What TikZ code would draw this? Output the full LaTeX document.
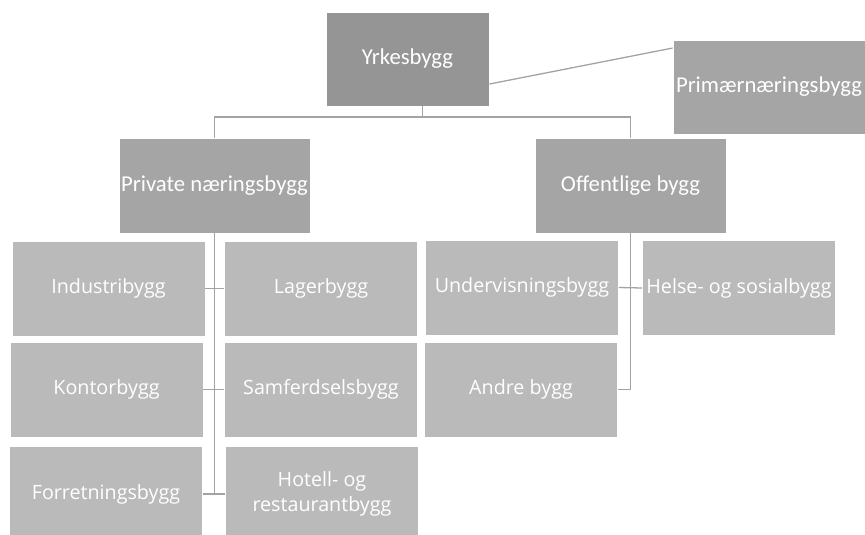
\documentclass[tikz,border=0pt]{standalone}
\usepackage{fontspec}
\setmainfont{Carlito}
\newfontfamily\bladfont{Open Sans}
\usetikzlibrary{positioning}
\definecolor{moerk}{HTML}{959595}
\definecolor{mellom}{HTML}{A5A5A5}
\definecolor{lys}{HTML}{BABABA}
\definecolor{strek}{HTML}{A3A3A3}
\tikzset{
  boks/.style={draw=white, line width=0.8pt, text=white, align=center, inner sep=0pt},
  hoved/.style={boks, fill=mellom, minimum width=191pt, minimum height=95pt, font=\fontsize{22.7}{26}\selectfont},
  blad/.style={boks, fill=lys, minimum width=193pt, minimum height=95pt, font=\bladfont\fontsize{19.7}{25}\selectfont},
  linje/.style={draw=strek, line width=1.3pt}
}
\begin{document}
\begin{tikzpicture}[x=1pt, y=-1pt]
        \useasboundingbox (0,0) rectangle (865,535);
        % Toppnivaa
        \node[hoved, fill=moerk, minimum width=163pt, minimum height=94pt] (yrkes) at (407.5,59) {Yrkesbygg};
        \node[hoved, minimum width=192pt, minimum height=94pt] (primaer) at (769,87) {Primærnæringsbygg};
        \node[hoved] (privat) at (214.5,185.5) {Private næringsbygg};
        \node[hoved] (offentlig) at (630.5,185.5) {Offentlige bygg};
        % Private naeringsbygg
        \node[blad] (industri) at (108.5,288.5) {Industribygg};
        \node[blad] (lager) at (321,288.5) {Lagerbygg};
        \node[blad] (kontor) at (106.5,389.5) {Kontorbygg};
        \node[blad] (samferdsel) at (321,389.5) {Samferdselsbygg};
        \node[blad, minimum height=96pt] (forretning) at (106,494) {Forretningsbygg};
        \node[blad, minimum height=96pt] (hotell) at (322,494) {Hotell- og\\restaurantbygg};
        % Offentlige bygg
        \node[blad] (underv) at (522,287.5) {Undervisningsbygg};
        \node[blad] (helse) at (739,288) {Helse- og sosialbygg};
        \node[blad] (andre) at (521,389.5) {Andre bygg};
        % Linjer
        \draw[linje] (yrkes.-17.7) -- (primaer.158);
        \coordinate (topp) at (422.5,117);
        \draw[linje] (yrkes.south -| topp) -- (topp);
        \draw[linje] (privat.north) |- (topp) -| (offentlig.north);
        \draw[linje] (privat.south) -- (privat.south |- hotell.west);
        \draw[linje] (industri.east) -- (lager.west);
        \draw[linje] (kontor.east) -- (samferdsel.west);
        \draw[linje] (forretning.east) -- (hotell.west);
        \draw[linje] (offentlig.south) -- (offentlig.south |- andre.east);
        \draw[linje] (underv.east) -- (helse.west);
        \draw[linje] (andre.east) -- (offentlig.south |- andre.east);
    \end{tikzpicture}
\end{document}
